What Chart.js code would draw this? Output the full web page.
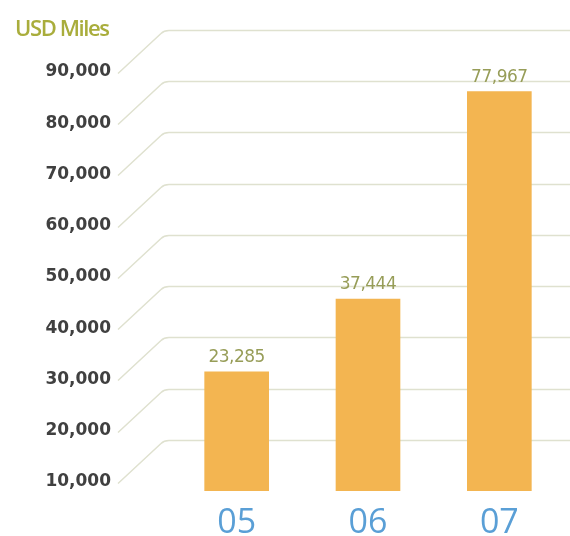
<!DOCTYPE html>
<html>
<head>
<meta charset="utf-8">
<script src="https://cdn.jsdelivr.net/npm/chart.js@4"></script>
<style>
  html, body { margin: 0; padding: 0; background: #fff; }
  #wrap { width: 570px; height: 536px; position: relative; }
</style>
</head>
<body>
<div id="wrap"><canvas id="chart"></canvas></div>
<script>
// values
const categories = ['05', '06', '07'];
const values = [23285, 37444, 77967];
const tickValues = [10000, 20000, 30000, 40000, 50000, 60000, 70000, 80000, 90000];
const unitLabel = 'USD Miles';

const barColor = '#f3b551';
const gridColor = '#dfe1cf';
const oliveText = '#979d58';

// perspective-ish grid: label sits lower left, a diagonal runs up to the line
const slantGrid = {
  id: 'slantGrid',
  beforeDatasetsDraw(chart) {
    const { ctx, chartArea, scales } = chart;
    const y = scales.y;
    const startX = chartArea.left - 6;
    ctx.save();
    ctx.lineWidth = 1.5;
    ctx.strokeStyle = gridColor;
    y.ticks.forEach((t) => {
      const py = Math.round(y.getPixelForValue(t.value)) + 0.5;
      ctx.beginPath();
      ctx.moveTo(118, py + 43);
      ctx.lineTo(startX - 4, py + 3);
      ctx.quadraticCurveTo(startX - 1, py, startX + 4, py);
      ctx.lineTo(chart.width, py);
      ctx.stroke();
    });
    ctx.restore();
  },
  afterDatasetsDraw(chart) {
    const { ctx } = chart;
    const meta = chart.getDatasetMeta(0);
    ctx.save();
    ctx.fillStyle = oliveText;
    ctx.font = '17px "DejaVu Sans"';
    ctx.textAlign = 'center';
    ctx.textBaseline = 'bottom';
    if ('letterSpacing' in ctx) ctx.letterSpacing = '-0.5px';
    meta.data.forEach((bar, i) => {
      ctx.fillText(values[i].toLocaleString('en-US'), bar.x, bar.y - 6);
    });

    ctx.fillStyle = '#a9ad3c';
    ctx.font = '600 22px "Open Sans"';
    ctx.textAlign = 'left';
    ctx.textBaseline = 'middle';
    if ('letterSpacing' in ctx) ctx.letterSpacing = '-1.4px';
    ctx.fillText(unitLabel, 15, 30);
    ctx.restore();
  }
};

new Chart(document.getElementById('chart'), {
  type: 'bar',
  data: {
    labels: categories,
    datasets: [{
      data: values,
      backgroundColor: barColor,
      borderWidth: 0,
      barThickness: 64
    }]
  },
  options: {
    responsive: true,
    maintainAspectRatio: false,
    animation: false,
    layout: { padding: { top: 30, right: 5, left: 0, bottom: 0 } },
    plugins: {
      legend: { display: false },
      tooltip: { enabled: false }
    },
    scales: {
      x: {
        grid: { display: false },
        border: { display: false },
        ticks: {
          color: '#5a9fd6',
          font: { family: 'Open Sans', size: 34 },
          padding: 4
        },
        afterFit(scale) { scale.height = 45; }
      },
      y: {
        min: 0,
        max: 90000,
        grid: { display: false, drawTicks: false },
        border: { display: false },
        afterBuildTicks(scale) {
          scale.ticks = tickValues.map((v) => ({ value: v }));
        },
        ticks: {
          color: '#404040',
          font: { family: 'DejaVu Sans', size: 17, weight: 'bold' },
          padding: 60,
          labelOffset: 42,
          callback: (v) => Number(v).toLocaleString('en-US')
        },
        afterFit(scale) {
          scale.width = 171;
          scale.paddingTop = 0;
          scale.paddingBottom = 0;
        }
      }
    }
  },
  plugins: [slantGrid]
});
</script>
</body>
</html>
